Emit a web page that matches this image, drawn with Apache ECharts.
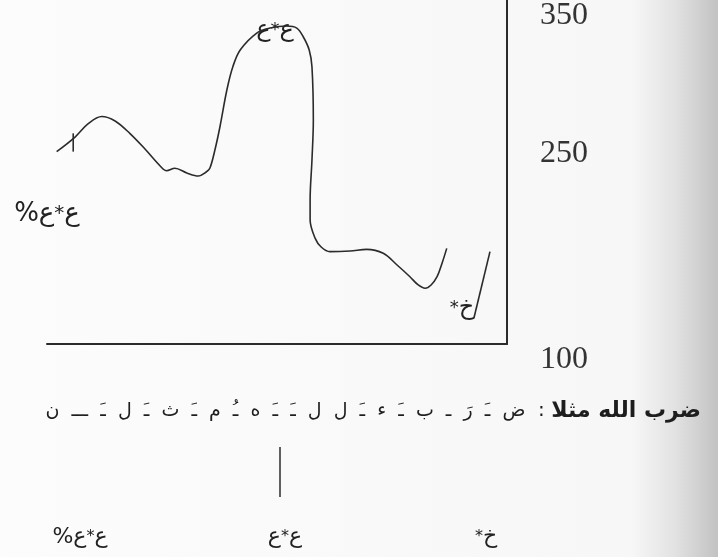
<!DOCTYPE html>
<html lang="ar">
<head>
  <meta charset="UTF-8">
  <title>منحنى التنغيم: ضرب الله مثلا</title>
  <style>
    html, body { margin: 0; padding: 0; background: #fbfbfb; }
    #chart { width: 718px; height: 557px; }
  </style>
  <script src="https://cdn.jsdelivr.net/npm/echarts@6/dist/echarts.min.js"></script>
</head>
<body>

<div id="chart"></div>

<script>
  // منحنى التردد الأساسي (هرتز) مقابل الزمن (0-100)
  const contourTime = [2.1, 6.1, 8.9, 11.9, 14.8, 18.0, 21.3, 24.6, 26.0, 27.8, 30.4, 32.9, 34.6, 35.4,
    36.5, 37.6, 39.1, 40.4, 42.0, 45.6, 48.5, 52.1, 54.3, 55.7, 57.0, 57.6, 57.9, 57.6, 57.2, 57.2,
    58.3, 59.6, 61.5, 65.9, 69.5, 73.1, 76.1, 78.9, 80.7, 82.2, 83.5, 84.8, 85.9, 86.9];
  const contourF0 = [239.8, 250.4, 259.9, 265.3, 262.1, 253.1, 241.7, 229.4, 225.9, 227.7, 224.3, 222.1, 225.0, 227.7,
    241.0, 257.9, 284.6, 301.5, 313.7, 326.0, 329.6, 331.1, 329.6, 323.3, 313.7, 301.5, 262.8, 233.7, 204.7, 190.1,
    176.8, 170.5, 167.1, 167.6, 168.8, 165.9, 157.4, 148.9, 142.9, 140.5, 142.9, 148.9, 158.9, 169.5];
  // الصعود الأخير
  const tailTime = [92.8, 96.3];
  const tailF0 = [118.7, 167.1];
  // علامة بداية المنحنى
  const tickTime = [5.7, 5.7];
  const tickF0 = [253.1, 239.8];

  const f0Ticks = [100, 250, 350];

  const sentenceHead = 'ضرب الله مثلا';
  const sentenceSyllables = ['ض', 'ـَ', 'رَ', 'ـ', 'ب', 'ـَ', 'ء', 'ـَ', 'ل', 'ل', 'ـَ', 'ـَ', 'ه', 'ـُ', 'م', 'ـَ', 'ث', 'ـَ', 'ل', 'ـَ', 'ـــ', 'ن'];

  const toPairs = (xs, ys) => xs.map((x, i) => [x, ys[i]]);

  const lineColor = '#2b2b2b';
  const arabicFont = '"DejaVu Sans", sans-serif';

  const chart = echarts.init(document.getElementById('chart'));

  const curve = (name, xs, ys, smooth) => ({
    name: name,
    type: 'line',
    data: toPairs(xs, ys),
    smooth: smooth,
    symbol: 'none',
    clip: false,
    lineStyle: { color: lineColor, width: 1.6 }
  });

  // نص بالترتيب المرئي من اليسار إلى اليمين
  const toneText = (x, y, tokens, size) => ({
    type: 'text',
    x: x,
    y: y,
    style: {
      text: tokens.map(t => `{${t[0]}|${t[1]}}`).join(''),
      align: 'center',
      verticalAlign: 'middle',
      rich: {
        g: { fontFamily: arabicFont, fontSize: size, fill: '#222' },
        s: { fontFamily: arabicFont, fontSize: size - 6, fill: '#222' }
      }
    }
  });

  chart.setOption({
    animation: false,
    backgroundColor: '#fbfbfb',
    grid: { left: 47, right: 211, top: 0, bottom: 213 },
    xAxis: {
      type: 'value',
      min: 0,
      max: 100,
      axisLine: { onZero: false, lineStyle: { color: lineColor, width: 2 } },
      axisTick: { show: false },
      axisLabel: { show: false },
      splitLine: { show: false }
    },
    yAxis: {
      type: 'value',
      position: 'right',
      min: 100,
      max: 350,
      interval: 50,
      axisLine: { show: true, onZero: false, lineStyle: { color: lineColor, width: 2 } },
      axisTick: { show: false },
      splitLine: { show: false },
      axisLabel: {
        margin: 33,
        verticalAlign: 'top',
        fontFamily: '"Liberation Serif", serif',
        fontSize: 32,
        color: '#333',
        formatter: v => f0Ticks.includes(v) ? String(v) : ''
      }
    },
    series: [
      curve('contour', contourTime, contourF0, 0.35),
      curve('tail', tailTime, tailF0, false),
      curve('tick', tickTime, tickF0, false)
    ],
    graphic: [
      {
        type: 'rect',
        z: -100,
        silent: true,
        shape: { x: 0, y: 0, width: 718, height: 557 },
        style: {
          fill: new echarts.graphic.LinearGradient(0, 0, 1, 0, [
            { offset: 0, color: '#fcfcfc' },
            { offset: 0.88, color: '#f7f7f7' },
            { offset: 0.94, color: '#e2e2e2' },
            { offset: 1, color: '#c2c2c2' }
          ])
        }
      },
      // تسميات داخل الرسم
      toneText(275, 30, [['g', 'ع'], ['s', '*'], ['g', 'ع']], 24),
      toneText(47, 214, [['g', '%ع'], ['s', '*'], ['g', 'ع']], 26),
      toneText(462, 308, [['s', '*'], ['g', 'خ']], 24),
      // الجملة
      {
        type: 'text',
        x: 701,
        y: 411,
        style: {
          text: `{s|${sentenceSyllables.join('  ')}}{c|  : }{b|${sentenceHead}}`,
          align: 'right',
          verticalAlign: 'middle',
          rich: {
            s: { fontFamily: arabicFont, fontSize: 19, fill: '#1e1e1e' },
            c: { fontFamily: arabicFont, fontSize: 20, fill: '#1e1e1e' },
            b: { fontFamily: arabicFont, fontSize: 22, fontWeight: 'bold', fill: '#1e1e1e' }
          }
        }
      },
      {
        type: 'line',
        shape: { x1: 280, y1: 447, x2: 280, y2: 497 },
        style: { stroke: lineColor, lineWidth: 1.5 }
      },
      // التسميات السفلية
      toneText(80, 537, [['g', '%ع'], ['s', '*'], ['g', 'ع']], 22),
      toneText(285, 537, [['g', 'ع'], ['s', '*'], ['g', 'ع']], 22),
      toneText(486, 537, [['s', '*'], ['g', 'خ']], 22)
    ]
  });
</script>

</body>
</html>
